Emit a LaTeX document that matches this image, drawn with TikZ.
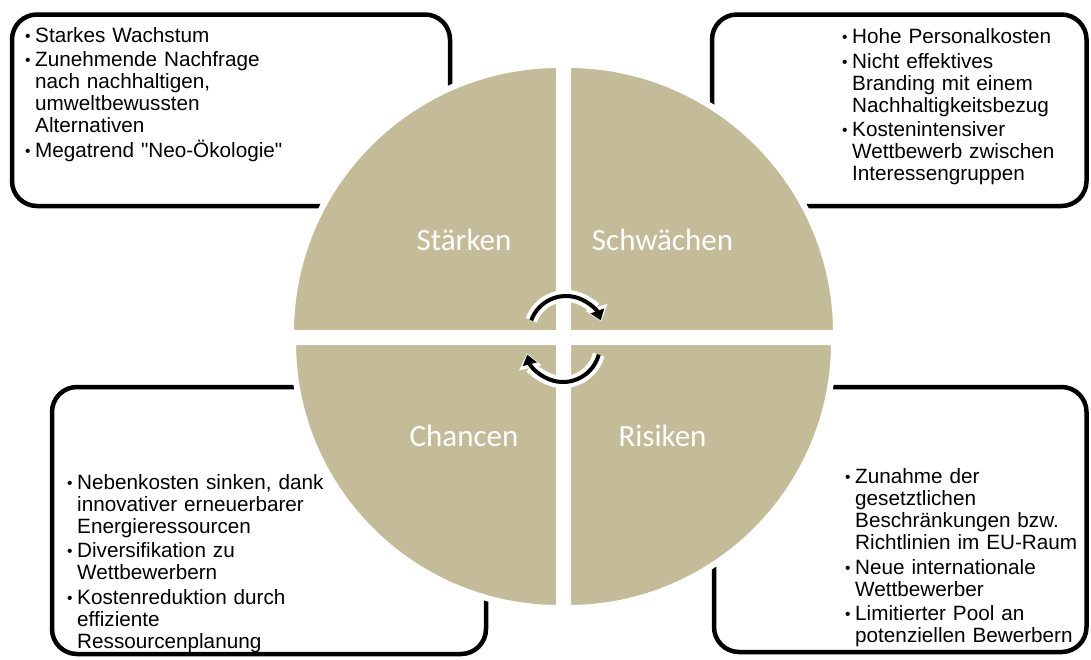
\documentclass[tikz,border=0pt]{standalone}
\usepackage{fontspec}
\setmainfont{Liberation Sans}[Ligatures=TeXOff]
\newfontfamily\quadfont{Carlito}
\usetikzlibrary{arrows.meta}
\definecolor{swottan}{RGB}{196,188,152}
% one bullet point with hanging indent
\newcommand{\swotitem}[1]{\hangindent=10pt\hangafter=1\noindent
  \makebox[10pt][l]{\raisebox{1pt}{\scalebox{0.75}{\textbullet}}}#1\par}

\begin{document}
\begin{tikzpicture}[x=1pt,y=-1pt,
  box/.style={draw=black,line width=4.5pt,rounded corners=25pt},
  items/.style={anchor=north west,inner sep=0pt,text width=270pt,align=left,
    font=\fontsize{20.7}{22}\selectfont\setlength{\parskip}{2.5pt}},
  quad/.style={fill=swottan,draw=white,line width=6pt},
  quadlabel/.style={anchor=base,text=white,font=\quadfont\fontsize{31}{31}\selectfont},
  halo/.style={white,line width=12pt,-{Triangle[length=15pt,width=22pt]}},
  cyclearrow/.style={black,line width=4pt,-{Triangle[length=10pt,width=14pt]}}]
  \useasboundingbox (0,0) rectangle (1091,659);

  % the four boxes
  \draw[box] (12,14.5) rectangle (450,206);
  \draw[box] (712,14.5) rectangle (1086.5,206);
  \draw[box] (52,387) rectangle (486,654);
  \draw[box] (714,387) rectangle (1086.5,652);

  \node[items] (strengths) at (25,27) {%
    \swotitem{Starkes Wachstum}
    \swotitem{Zunehmende Nachfrage\newline nach nachhaltigen,\newline umweltbewussten\newline Alternativen}
    \swotitem{Megatrend "Neo-Ökologie"}};
  \node[items] (weaknesses) at (842,28.5) {%
    \swotitem{Hohe Personalkosten}
    \swotitem{Nicht effektives\newline Branding mit einem\newline Nachhaltigkeitsbezug}
    \swotitem{Kostenintensiver\newline Wettbewerb zwischen\newline Interessengruppen}};
  \node[items] (chances) at (67,474) {%
    \swotitem{Nebenkosten sinken, dank\newline innovativer erneuerbarer\newline Energieressourcen}
    \swotitem{Diversifikation zu\newline Wettbewerbern}
    \swotitem{Kostenreduktion durch\newline effiziente\newline Ressourcenplanung}};
  \node[items] (risks) at (845,468.5) {%
    \swotitem{Zunahme der\newline gesetztlichen\newline Beschränkungen bzw.\newline Richtlinien im EU-Raum}
    \swotitem{Neue internationale\newline Wettbewerber}
    \swotitem{Limitierter Pool an\newline potenziellen Bewerbern}};

  % quarter discs
  \draw[quad] (559,333) -- ++(-268,0) arc[start angle=180,end angle=270,radius=268] -- cycle;
  \draw[quad] (568,333) -- ++(0,-268) arc[start angle=270,end angle=360,radius=268] -- cycle;
  \draw[quad] (568,342) -- ++(266,0) arc[start angle=0,end angle=90,radius=266] -- cycle;
  \draw[quad] (559,342) -- ++(0,266) arc[start angle=90,end angle=180,radius=266] -- cycle;

  \node[quadlabel] (s) at (464,250) {Stärken};
  \node[quadlabel] (w) at (662.5,250) {Schwächen};
  \node[quadlabel] (o) at (464,446) {Chancen};
  \node[quadlabel] (t) at (662.5,446) {Risiken};

  % cycle arrows
  \coordinate (topc) at (566,333);
  \coordinate (botc) at (563,345);
  \draw[halo] ([shift={(200:37)}]topc) arc[start angle=200,end angle=342,radius=37];
  \draw[halo] ([shift={(15:37)}]botc) arc[start angle=15,end angle=167,radius=37];
  \draw[cyclearrow] ([shift={(200:37)}]topc) arc[start angle=200,end angle=340,radius=37];
  \draw[cyclearrow] ([shift={(15:37)}]botc) arc[start angle=15,end angle=165,radius=37];
\end{tikzpicture}
\end{document}
